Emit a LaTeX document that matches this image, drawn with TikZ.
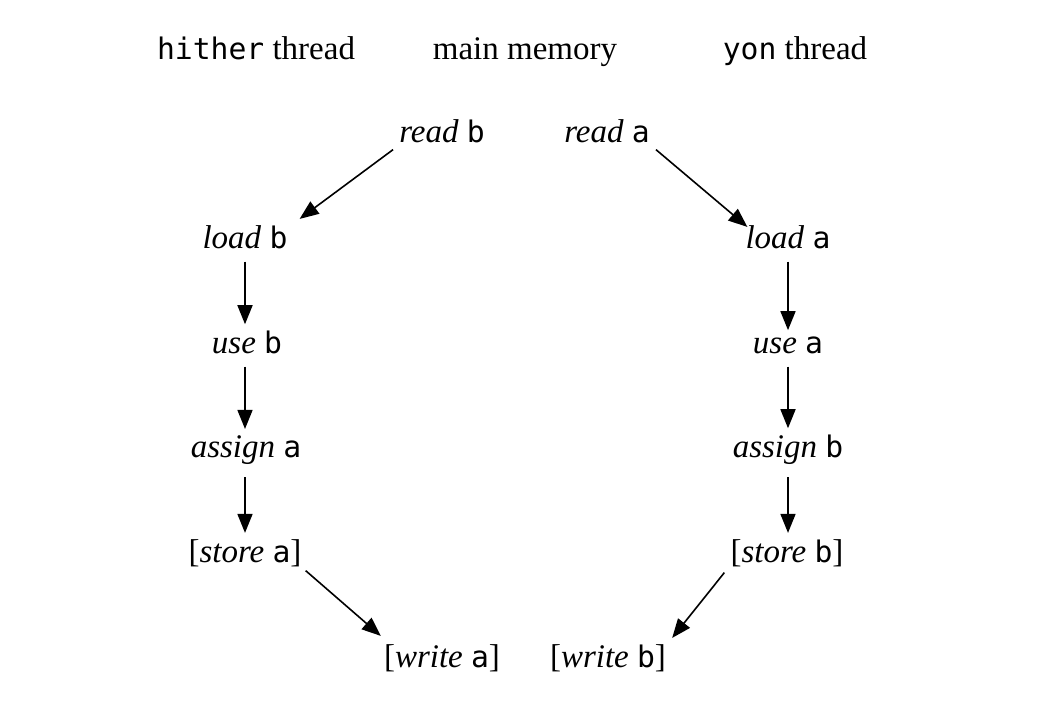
\documentclass[tikz,border=0pt]{standalone}
\usepackage{fontspec}
\setmainfont{Liberation Serif}
\setmonofont[Scale=0.9]{DejaVu Sans Mono}
\usetikzlibrary{arrows.meta,calc}
\begin{document}
\begin{tikzpicture}[x=1pt,y=-1pt,
  lbl/.style={anchor=base,inner sep=6pt,font=\fontsize{33}{38}\selectfont},
  arr/.style={line width=1.6pt,-{Triangle[length=19pt,width=15pt]}},
  varr/.style={arr,shorten <=7pt}]
\useasboundingbox (0,0) rectangle (1056,714);
\node[lbl] (hh) at (256,60) {\texttt{hither} thread};
\node[lbl] (mm) at (525,60) {main memory};
\node[lbl] (yh) at (795,60) {\texttt{yon} thread};
\node[lbl] (rb) at (442,143) {\textit{read} \texttt{b}};
\node[lbl] (ra) at (607,143) {\textit{read} \texttt{a}};
\node[lbl] (lb) at (245,248) {\textit{load} \texttt{b}};
\node[lbl] (la) at (788,248) {\textit{load} \texttt{a}};
\node[lbl] (ub) at (247,353) {\textit{use} \texttt{b}};
\node[lbl] (ua) at (788,353) {\textit{use} \texttt{a}};
\node[lbl] (aa) at (246,457) {\textit{assign} \texttt{a}};
\node[lbl] (ab) at (788,457) {\textit{assign} \texttt{b}};
\node[lbl] (sa) at (245,562) {[\textit{store} \texttt{a}]};
\node[lbl] (sb) at (787,562) {[\textit{store} \texttt{b}]};
\node[lbl] (wa) at (442,667) {[\textit{write} \texttt{a}]};
\node[lbl] (wb) at (608,667) {[\textit{write} \texttt{b}]};
\draw[arr] (rb.south west) -- ($(lb.north east)+(6,0)$);
\draw[arr] (ra.south east) -- ($(la.north west)+(8,8)$);
\draw[varr] (lb.south -| 245,0) -- (ub.north -| 245,0);
\draw[varr] (ub.south -| 245,0) -- (aa.north -| 245,0);
\draw[varr] (aa.south -| 245,0) -- (sa.north -| 245,0);
\draw[varr] (la.south -| 788,0) -- (ua.north -| 788,0);
\draw[varr] (ua.south -| 788,0) -- (ab.north -| 788,0);
\draw[varr] (ab.south -| 788,0) -- (sb.north -| 788,0);
\draw[arr] ($(sa.south east)+(-2,-2)$) -- ($(wa.north west)+(3,-2)$);
\draw[arr] (sb.south west) -- (wb.north east);
\end{tikzpicture}
\end{document}
